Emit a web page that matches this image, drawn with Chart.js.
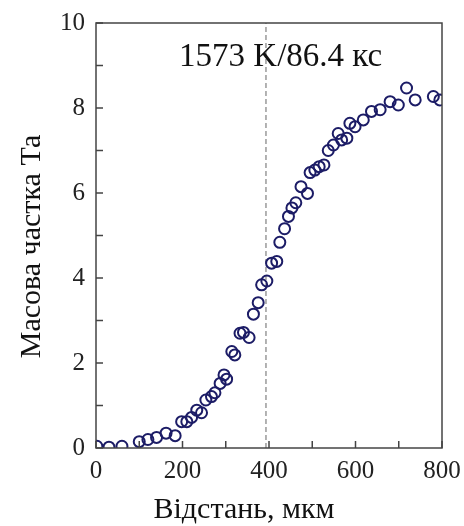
<!DOCTYPE html>
<html>
<head>
<meta charset="utf-8">
<script src="https://cdn.jsdelivr.net/npm/chart.js@4.4.1/dist/chart.umd.min.js"></script>
<style>
  html, body { margin: 0; padding: 0; background: #fff; }
  #wrap { width: 464px; height: 526px; }
</style>
</head>
<body>
<div id="wrap"><canvas id="taChart"></canvas></div>
<script>
// distance (µm) and Ta mass fraction
const distance = [
  2, 30, 60, 100, 120, 140, 162, 183, 198, 210,
  221, 233, 244, 254, 267, 275, 287, 296, 302, 314,
  321, 333, 341, 354, 364, 375, 383, 395, 406, 418,
  425, 436, 445, 453, 462, 474, 489, 495, 506, 516,
  527, 537, 549, 560, 568, 580, 587, 599, 618, 637,
  657, 680, 699, 718, 738, 780, 795
];
const taFraction = [
  0.04, 0.02, 0.04, 0.15, 0.2, 0.25, 0.35, 0.29, 0.62, 0.62,
  0.72, 0.89, 0.83, 1.13, 1.21, 1.3, 1.52, 1.72, 1.62, 2.27,
  2.19, 2.7, 2.72, 2.6, 3.15, 3.42, 3.84, 3.93, 4.35, 4.39,
  4.84, 5.16, 5.45, 5.65, 5.77, 6.15, 5.99, 6.48, 6.54, 6.62,
  6.66, 7.0, 7.13, 7.4, 7.25, 7.29, 7.64, 7.56, 7.72, 7.92,
  7.96, 8.15, 8.07, 8.47, 8.19, 8.27, 8.19
];
const markerX = [393, 393];
const markerY = [0, 10];
const xLabelEvery = 200;
const yLabelEvery = 2;

const noteText = "1573 K/86.4 кс";
const noteAt = { x: 427, y: 9.0 };
const xTitle = "Відстань, мкм";
const yTitle = "Масова частка Та";

const serif = "'Liberation Serif', 'DejaVu Serif', serif";
const frameColor = "#444";

const framePlugin = {
  id: "frame",
  afterDatasetsDraw(chart) {
    const { ctx, chartArea: a, scales } = chart;
    ctx.save();
    ctx.strokeStyle = frameColor;
    ctx.lineWidth = 1.5;
    ctx.strokeRect(a.left, a.top, a.right - a.left, a.bottom - a.top);
    // inward tick marks
    ctx.beginPath();
    scales.x.ticks.forEach((t) => {
      const px = scales.x.getPixelForValue(t.value);
      ctx.moveTo(px, a.bottom);
      ctx.lineTo(px, a.bottom - 7);
    });
    scales.y.ticks.forEach((t) => {
      const py = scales.y.getPixelForValue(t.value);
      ctx.moveTo(a.left, py);
      ctx.lineTo(a.left + 7, py);
    });
    ctx.stroke();

    // note at the top
    ctx.fillStyle = "#111";
    ctx.font = `33px ${serif}`;
    ctx.textAlign = "center";
    ctx.textBaseline = "alphabetic";
    ctx.fillText(noteText, scales.x.getPixelForValue(noteAt.x), scales.y.getPixelForValue(noteAt.y));

    // axis titles
    ctx.font = `30px ${serif}`;
    ctx.fillText(xTitle, (a.left + a.right) / 2 - 25, a.bottom + 70);
    ctx.translate(40, (a.top + a.bottom) / 2 + 11);
    ctx.rotate(-Math.PI / 2);
    ctx.fillText(yTitle, 0, 0);
    ctx.restore();
  },
};

new Chart(document.getElementById("taChart"), {
  type: "scatter",
  data: {
    datasets: [
      {
        type: "line",
        data: markerX.map((x, i) => ({ x, y: markerY[i] })),
        borderColor: "#8a8a8a",
        borderWidth: 1.3,
        borderDash: [5, 3],
        pointRadius: 0,
        fill: false,
        order: 2,
      },
      {
        data: distance.map((x, i) => ({ x, y: taFraction[i] })),
        pointStyle: "circle",
        pointRadius: 5.5,
        pointBorderWidth: 2,
        borderColor: "#1c1c66",
        backgroundColor: "rgba(0,0,0,0)",
        order: 1,
      },
    ],
  },
  options: {
    responsive: true,
    maintainAspectRatio: false,
    animation: false,
    layout: { padding: { top: 23, right: 22, left: 0, bottom: 0 } },
    plugins: {
      legend: { display: false },
      tooltip: { enabled: false },
    },
    scales: {
      x: {
        type: "linear",
        min: 0,
        max: 800,
        grid: { display: false, drawTicks: false },
        border: { display: false },
        afterFit: (s) => { s.height = 78; s.paddingLeft = 0; s.paddingRight = 0; },
        ticks: {
          stepSize: 100,
          padding: 8,
          autoSkip: false,
          maxRotation: 0,
          minRotation: 0,
          color: "#222",
          font: { family: serif, size: 25 },
          callback: (v) => (v % xLabelEvery === 0 ? v : ""),
        },
      },
      y: {
        min: 0,
        max: 10,
        grid: { display: false, drawTicks: false },
        border: { display: false },
        afterFit: (s) => { s.width = 96; s.paddingTop = 0; s.paddingBottom = 0; },
        ticks: {
          stepSize: 1,
          padding: 11,
          autoSkip: false,
          color: "#222",
          font: { family: serif, size: 25 },
          callback: (v) => (v % yLabelEvery === 0 ? v : ""),
        },
      },
    },
  },
  plugins: [framePlugin],
});
</script>
</body>
</html>
